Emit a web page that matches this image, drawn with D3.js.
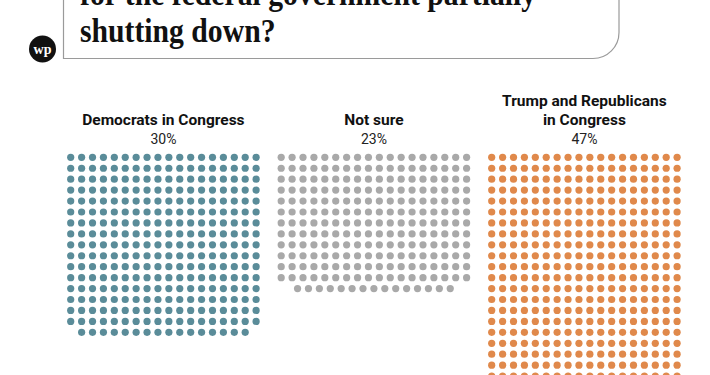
<!DOCTYPE html>
<html>
<head>
<meta charset="utf-8">
<script src="https://cdn.jsdelivr.net/npm/d3@7"></script>
<style>
  html, body { margin: 0; padding: 0; background: #fff; }
  svg { display: block; }
</style>
</head>
<body>
<svg id="chart" width="710" height="375"></svg>
<script>
// ---- Data ----
const titleLines = ["for the federal government partially", "shutting down?"];
const categories = ["Democrats in Congress", "Not sure", "Trump and Republicans in Congress"];
const labelLines = [["Democrats in Congress"], ["Not sure"], ["Trump and Republicans", "in Congress"]];
const percents = [30, 23, 47];
const dotCounts = [304, 231, 472];   // one dot per respondent
const colors = ["#5a8c99", "#a9a9a9", "#e0894b"];
const columnsPerGroup = 18;

// ---- Setup ----
const svg = d3.select("#chart");

// Header box (speech bubble, top cut off)
const boxL = 63.5, boxR = 619, boxB = 58.5, rad = 26;
svg.append("path")
  .attr("d", `M${boxL},-5 L${boxL},${boxB} L${boxR - rad},${boxB} A${rad},${rad} 0 0 0 ${boxR},${boxB - rad} L${boxR},-5`)
  .attr("fill", "none")
  .attr("stroke", "#9a9a9a")
  .attr("stroke-width", 1.2);

svg.selectAll("text.title")
  .data(titleLines)
  .join("text")
  .attr("class", "title")
  .attr("transform", (d, i) => `translate(80,${5 + i * 37}) scale(0.9,1)`)
  .attr("font-family", "'Liberation Serif', 'DejaVu Serif', serif")
  .attr("font-weight", "bold")
  .attr("font-size", 33)
  .attr("fill", "#111")
  .text(d => d);

// Logo
const logo = svg.append("g").attr("transform", "translate(42.5,49)");
logo.append("circle").attr("r", 13.5).attr("fill", "#111");
logo.append("text")
  .attr("text-anchor", "middle")
  .attr("y", 4.5)
  .attr("font-family", "'Liberation Serif', serif")
  .attr("font-weight", "bold")
  .attr("font-size", 14)
  .attr("fill", "#fff")
  .text("wp");

// ---- Scales ----
const dotR = 3.6;
const xGroup = d3.scaleBand()
  .domain(categories)
  .range([67.1, 680.7])
  .paddingInner(0.085)
  .paddingOuter(0);

const xCol = d3.scaleLinear()
  .domain([0, columnsPerGroup - 1])
  .range([dotR, xGroup.bandwidth() - dotR]);

const yRow = d3.scaleLinear()
  .domain([0, 1])
  .range([157.3, 157.3 + 10.94]);

// ---- Groups ----
const groups = svg.selectAll("g.group")
  .data(categories)
  .join("g")
  .attr("class", "group")
  .attr("transform", d => `translate(${xGroup(d)},0)`);

groups.each(function(cat, gi) {
  const g = d3.select(this);
  const cx = xGroup.bandwidth() / 2;
  const lines = labelLines[gi];
  const nL = lines.length;
  lines.forEach((ln, li) => {
    g.append("text")
      .attr("x", cx)
      .attr("y", 125 - (nL - 1 - li) * 19.5)
      .attr("text-anchor", "middle")
      .attr("font-family", "Roboto, 'Liberation Sans', sans-serif")
      .attr("font-weight", "bold")
      .attr("font-size", 15.5)
      .attr("fill", "#111")
      .text(ln);
  });
  g.append("text")
    .attr("x", cx)
    .attr("y", 144)
    .attr("text-anchor", "middle")
    .attr("font-family", "Roboto, 'Liberation Sans', sans-serif")
    .attr("font-size", 14)
    .attr("fill", "#222")
    .text(percents[gi] + "%");

  // dots
  const n = dotCounts[gi];
  const fullRows = Math.floor(n / columnsPerGroup);
  const rem = n - fullRows * columnsPerGroup;
  const dots = d3.range(n).map(i => {
    const r = Math.floor(i / columnsPerGroup);
    let c = i % columnsPerGroup;
    if (r === fullRows) c = c + (columnsPerGroup - rem) / 2;
    return { r, c };
  });
  g.selectAll("circle.dot")
    .data(dots)
    .join("circle")
    .attr("class", "dot")
    .attr("cx", d => xCol(d.c))
    .attr("cy", d => yRow(d.r))
    .attr("r", dotR)
    .attr("fill", colors[gi]);
});
</script>
</body>
</html>
